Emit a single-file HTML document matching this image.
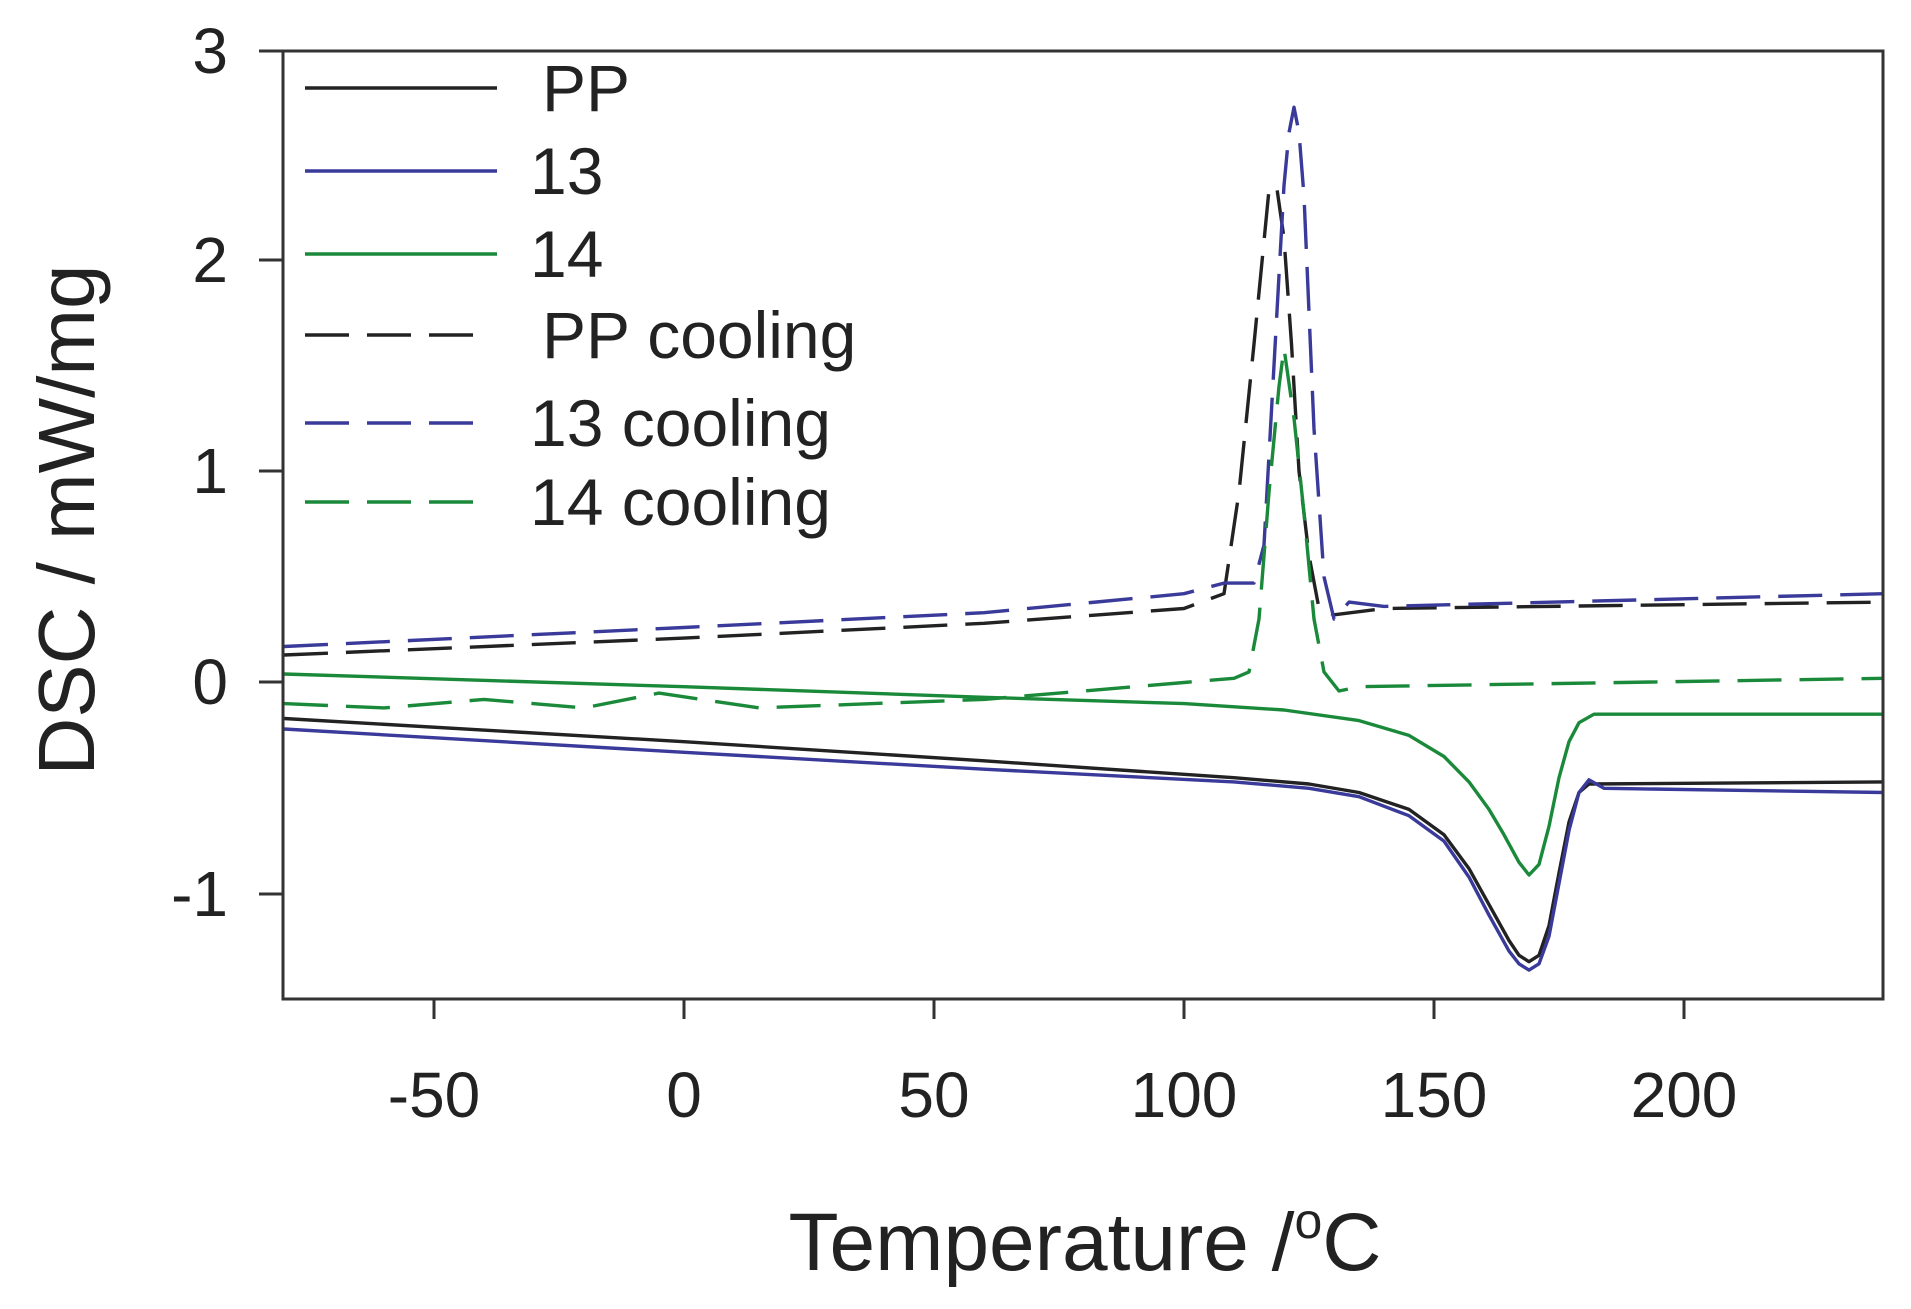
<!DOCTYPE html>
<html><head><meta charset="utf-8"><style>body{margin:0;background:#fff}svg{display:block}text{font-family:"Liberation Sans",sans-serif;fill:#222}</style></head>
<body>
<svg id="s" width="1911" height="1309" viewBox="0 0 1911 1309" xmlns="http://www.w3.org/2000/svg">
<rect x="0" y="0" width="1911" height="1309" fill="#fff"/>
<g id="curves" fill="none" stroke-width="3.4" stroke-linejoin="round"></g>
<rect x="283" y="51" width="1600" height="948" fill="none" stroke="#333" stroke-width="3"/>
<g stroke="#333" stroke-width="3">
<line x1="259" y1="51" x2="283" y2="51"/><line x1="259" y1="260" x2="283" y2="260"/><line x1="259" y1="471" x2="283" y2="471"/><line x1="259" y1="682" x2="283" y2="682"/><line x1="259" y1="894" x2="283" y2="894"/>
<line x1="434" y1="999" x2="434" y2="1019"/><line x1="684" y1="999" x2="684" y2="1019"/><line x1="934" y1="999" x2="934" y2="1019"/><line x1="1184" y1="999" x2="1184" y2="1019"/><line x1="1434" y1="999" x2="1434" y2="1019"/><line x1="1684" y1="999" x2="1684" y2="1019"/>
</g>
<g font-size="64" text-anchor="end">
<text x="228" y="73">3</text><text x="228" y="282">2</text><text x="228" y="493">1</text><text x="228" y="704">0</text><text x="228" y="916">-1</text>
</g>
<g font-size="64" text-anchor="middle">
<text x="434" y="1117">-50</text><text x="684" y="1117">0</text><text x="934" y="1117">50</text><text x="1184" y="1117">100</text><text x="1434" y="1117">150</text><text x="1684" y="1117">200</text>
</g>
<text x="1085" y="1270" font-size="82" text-anchor="middle">Temperature /<tspan font-size="50" dy="-32">o</tspan><tspan dy="32">C</tspan></text>
<text transform="translate(94,520) rotate(-90)" font-size="80" text-anchor="middle">DSC / mW/mg</text>
<g stroke-width="3.4">
<line x1="305" y1="88" x2="497" y2="88" stroke="#222"/>
<line x1="305" y1="171" x2="497" y2="171" stroke="#3a3a9a"/>
<line x1="305" y1="254" x2="497" y2="254" stroke="#1a8a3a"/>
<line x1="305" y1="335" x2="480" y2="335" stroke="#222" stroke-dasharray="44,18"/>
<line x1="305" y1="423" x2="480" y2="423" stroke="#3a3a9a" stroke-dasharray="44,18"/>
<line x1="305" y1="502" x2="480" y2="502" stroke="#1a8a3a" stroke-dasharray="44,18"/>
</g>
<g font-size="66">
<text x="542" y="111">PP</text><text x="530" y="194">13</text><text x="530" y="277">14</text>
<text x="542" y="358">PP cooling</text><text x="530" y="446">13 cooling</text><text x="530" y="525">14 cooling</text>
</g>
</svg>
<script>
var S=[
["#222",0,[[-80,-0.17],[0,-0.28],[60,-0.37],[110,-0.45],[125,-0.48],[135,-0.52],[145,-0.6],[152,-0.72],[157,-0.88],[161,-1.05],[165,-1.22],[167,-1.29],[169,-1.32],[171,-1.29],[173,-1.15],[175,-0.9],[177,-0.66],[179,-0.52],[181,-0.48],[240,-0.47]]],
["#3a3a9a",0,[[-80,-0.22],[0,-0.33],[60,-0.41],[110,-0.47],[125,-0.5],[135,-0.54],[145,-0.63],[152,-0.75],[157,-0.92],[161,-1.1],[165,-1.27],[167,-1.33],[169,-1.36],[171,-1.33],[173,-1.2],[175,-0.95],[177,-0.7],[179,-0.52],[181,-0.46],[184,-0.5],[240,-0.52]]],
["#1a8a3a",0,[[-80,0.04],[0,-0.02],[60,-0.07],[100,-0.1],[120,-0.13],[135,-0.18],[145,-0.25],[152,-0.35],[157,-0.47],[161,-0.6],[164,-0.72],[167,-0.85],[169,-0.91],[171,-0.86],[173,-0.68],[175,-0.45],[177,-0.28],[179,-0.19],[182,-0.15],[240,-0.15]]],
["#222",1,[[-80,0.13],[0,0.21],[60,0.28],[100,0.35],[108,0.42],[111,0.9],[114,1.6],[117,2.33],[118.5,2.35],[120,2.1],[121.5,1.6],[123,1.0],[125,0.6],[127,0.35],[130,0.32],[140,0.35],[240,0.38]]],
["#3a3a9a",1,[[-80,0.17],[0,0.26],[60,0.33],[100,0.42],[108,0.47],[114,0.47],[116,0.65],[118,1.5],[120,2.35],[121,2.6],[122,2.72],[123,2.6],[124,2.3],[126,1.2],[128,0.5],[130,0.3],[133,0.38],[140,0.36],[240,0.42]]],
["#1a8a3a",1,[[-80,-0.1],[-60,-0.12],[-40,-0.08],[-20,-0.12],[-5,-0.05],[15,-0.12],[60,-0.08],[100,0],[110,0.02],[113,0.05],[115,0.3],[117,0.9],[119,1.4],[120,1.58],[122,1.25],[124,0.8],[126,0.3],[128,0.05],[131,-0.04],[135,-0.02],[240,0.02]]]];
var g=document.getElementById("curves"),h="";
S.forEach(function(s){var d=s[2].map(function(p,i){return (i?"L":"M")+(684+5*p[0]).toFixed(1)+","+(682.5-211.5*p[1]).toFixed(1)}).join("");
h+='<path d="'+d+'" stroke="'+s[0]+'"'+(s[1]?' stroke-dasharray="44,18"':'')+'/>';});
g.innerHTML=h;
</script>
</body></html>
